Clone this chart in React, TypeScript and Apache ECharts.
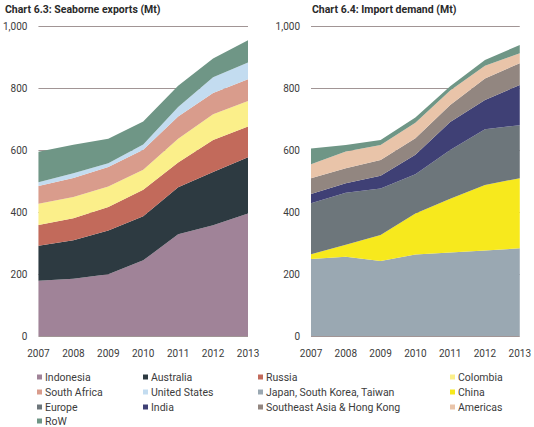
import React, { useEffect, useRef } from "react";
import * as echarts from "echarts";

const years = ["2007", "2008", "2009", "2010", "2011", "2012", "2013"];

// Chart 6.3: Seaborne exports (Mt)
const indonesia = [178, 185, 199, 244, 328, 357, 395];
const australia = [113, 124, 141, 142, 152, 172, 182];
const russia = [67, 71, 76, 86, 80, 103, 99];
const colombia = [69, 68, 66, 64, 76, 83, 82];
const southAfrica = [57, 62, 63, 65, 72, 69, 70];
const unitedStates = [12, 15, 12, 17, 31, 51, 54];
const rowExports = [98, 92, 79, 74, 68, 60, 72];

// Chart 6.4: Import demand (Mt)
const japanKoreaTaiwan = [248, 256, 242, 263, 269, 276, 283];
const china = [16, 38, 84, 132, 174, 211, 226];
const europe = [164, 168, 150, 127, 157, 180, 171];
const india = [30, 31, 41, 63, 90, 94, 130];
const seAsia = [51, 48, 51, 53, 55, 70, 70];
const americas = [45, 54, 48, 50, 47, 41, 32];
const rowImports = [51, 21, 16, 17, 14, 18, 27];

const yTicks = [0, 200, 400, 600, 800, 1000];

const colors: Record<string, string> = {
  Indonesia: "#a08398",
  Australia: "#2d3a41",
  Russia: "#c26a5b",
  Colombia: "#fbef8a",
  "South Africa": "#d99c8c",
  "United States": "#c3dcf0",
  "Japan, South Korea, Taiwan": "#9aa8b2",
  China: "#f7e91d",
  Europe: "#6d767b",
  India: "#3f4075",
  "Southeast Asia & Hong Kong": "#928680",
  Americas: "#e9c4a9",
  RoW: "#6f9686",
};

const exportSeries: [string, number[]][] = [
  ["Indonesia", indonesia],
  ["Australia", australia],
  ["Russia", russia],
  ["Colombia", colombia],
  ["South Africa", southAfrica],
  ["United States", unitedStates],
  ["RoW", rowExports],
];

const importSeries: [string, number[]][] = [
  ["Japan, South Korea, Taiwan", japanKoreaTaiwan],
  ["China", china],
  ["Europe", europe],
  ["India", india],
  ["Southeast Asia & Hong Kong", seAsia],
  ["Americas", americas],
  ["RoW", rowImports],
];

const legendOrder = [
  "Indonesia",
  "Australia",
  "Russia",
  "Colombia",
  "South Africa",
  "United States",
  "Japan, South Korea, Taiwan",
  "China",
  "Europe",
  "India",
  "Southeast Asia & Hong Kong",
  "Americas",
  "RoW",
];

const FONT = "Roboto, 'Open Sans', sans-serif";
const TEXT = "#3c3c3c";

export default function App() {
  const ref = useRef<HTMLDivElement>(null);

  useEffect(() => {
    document.body.style.margin = "0";
    if (!ref.current) return;
    const chart = echarts.init(ref.current, null, { renderer: "svg" });

    const makeAxes = (idx: number) => ({
      x: {
        type: "category",
        gridIndex: idx,
        data: years,
        boundaryGap: false,
        axisLine: { show: false },
        axisTick: { show: false },
        axisLabel: { color: TEXT, fontSize: 10, fontFamily: FONT, margin: 12 },
      },
      y: {
        type: "value",
        gridIndex: idx,
        min: yTicks[0],
        max: yTicks[yTicks.length - 1],
        interval: 200,
        axisLine: { show: false },
        axisTick: { show: false },
        axisLabel: {
          color: TEXT,
          fontSize: 10,
          fontFamily: FONT,
          margin: 11,
          padding: [0, 0, 5, 0],
          formatter: (v: number) => v.toLocaleString("en-US"),
        },
        splitLine: { lineStyle: { color: "#a19595", width: 1 } },
      },
    });
    const a0 = makeAxes(0);
    const a1 = makeAxes(1);

    const mk = (list: [string, number[]][], idx: number, stack: string) =>
      list.map(([name, data]) => ({
        name,
        type: "line",
        xAxisIndex: idx,
        yAxisIndex: idx,
        stack,
        data,
        symbol: "none",
        lineStyle: { width: 0 },
        areaStyle: { color: colors[name], opacity: 1 },
        itemStyle: { color: colors[name] },
        z: 2,
      }));

    const colX = [37, 143, 258, 450];
    const rowY = [377, 392, 407, 421];
    const legendGraphics: any[] = [];
    legendOrder.forEach((name, i) => {
      const c = i % 4;
      const r = Math.floor(i / 4);
      legendGraphics.push({
        type: "rect",
        shape: { x: colX[c], y: rowY[r] - 2.5, width: 5, height: 5 },
        style: { fill: colors[name] },
      });
      legendGraphics.push({
        type: "text",
        x: colX[c] + 8,
        y: rowY[r],
        style: {
          text: name,
          fill: TEXT,
          fontSize: 10.5,
          fontFamily: FONT,
          verticalAlign: "middle",
          align: "left",
        },
      });
    });

    chart.setOption({
      animation: false,
      backgroundColor: "#ffffff",
      title: [
        {
          text: "Chart 6.3: Seaborne exports (Mt)",
          left: 0,
          top: -1,
          textStyle: { fontSize: 10.5, fontWeight: "bold", color: "#2a2a2a", fontFamily: FONT },
        },
        {
          text: "Chart 6.4: Import demand (Mt)",
          left: 307,
          top: -1,
          textStyle: { fontSize: 10.5, fontWeight: "bold", color: "#2a2a2a", fontFamily: FONT },
        },
      ],
      grid: [
        { left: 37, top: 26, width: 211, height: 310 },
        { left: 311, top: 26, width: 211, height: 310 },
      ],
      xAxis: [a0.x, a1.x],
      yAxis: [a0.y, a1.y],
      series: [...mk(exportSeries, 0, "exp"), ...mk(importSeries, 1, "imp")],
      graphic: legendGraphics,
    });

    return () => chart.dispose();
  }, []);

  return <div ref={ref} style={{ width: 534, height: 427 }} />;
}
